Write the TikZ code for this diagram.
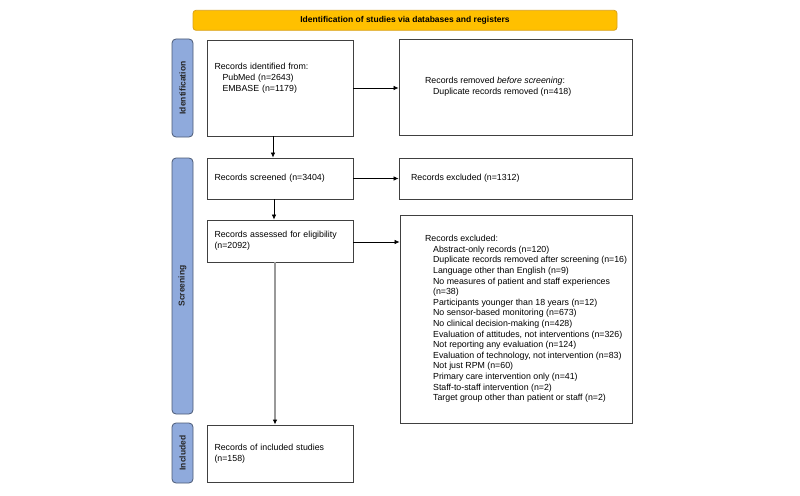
\documentclass[tikz,border=0pt]{standalone}
\usepackage{fontspec}
\setmainfont{Liberation Sans}
\usetikzlibrary{arrows.meta}
\definecolor{bannerfill}{HTML}{FFC000}
\definecolor{bannerline}{HTML}{D9A21B}
\definecolor{phasefill}{HTML}{8FAADC}
\definecolor{phaseline}{HTML}{4B5A75}
\definecolor{boxline}{HTML}{404040}
\newcommand{\ind}{\hspace*{8pt}}
\tikzset{
  txt/.style={font=\fontsize{8.8}{10.6}\selectfont, align=left},
  box/.style={draw=boxline, line width=0.8pt, rectangle, txt, inner ysep=2pt},
  lbox/.style={box, text width=131pt, inner xsep=7.5pt},
  phase/.style={draw=phaseline, fill=phasefill, line width=0.8pt, rounded corners=4pt,
    rotate=90, minimum height=21pt, inner sep=0pt, text=black!85,
    font=\fontsize{8.5}{10}\selectfont\bfseries},
  flow/.style={-{Latex[length=5pt,width=4.5pt]}, line width=0.7pt, draw=black},
}
\begin{document}
\begin{tikzpicture}[x=1pt, y=-1pt]
  \useasboundingbox (0,0) rectangle (800,495);

  % banner
  \node[draw=bannerline, fill=bannerfill, rounded corners=3pt, line width=0.8pt,
    minimum width=424pt, minimum height=20pt, inner sep=0pt,
    font=\fontsize{8.5}{10}\selectfont\bfseries] (banner) at (405,20.3)
    {Identification of studies via databases and registers};

  % phase labels
  \node[phase, minimum width=98pt] (phid) at (182.5,88) {Identification};
  \node[phase, minimum width=256pt] (phscr) at (182.5,286) {Screening};
  \node[phase, minimum width=60pt] (phinc) at (182.5,453) {Included};

  % left column
  \node[lbox, minimum height=96pt] (ident) at (280,88)
    {Records identified from:\\ \ind PubMed (n=2643)\\ \ind EMBASE (n=1179)\\ \mbox{}\\ \mbox{}};
  \node[lbox, minimum height=41pt] (screen) at (280,178.5)
    {Records screened (n=3404)};
  \node[lbox, minimum height=42pt] (assess) at (280,241)
    {Records assessed for eligibility\\ (n=2092)};
  \node[lbox, minimum height=57pt] (incl) at (280,453.5)
    {Records of included studies\\ (n=158)};

  % right column
  \node[box, minimum width=233pt, minimum height=96pt,
    label={[name=removedtxt, txt, anchor=west, xshift=23pt]west:{Records removed \textit{before screening}:\\ \ind Duplicate records removed (n=418)}}]
    (removed) at (515.5,87) {};
  \node[box, minimum width=233pt, minimum height=41pt,
    label={[name=excla, txt, anchor=west, xshift=9pt]west:{Records excluded (n=1312)}}]
    (exclone) at (515.5,178.5) {};
  \node[box, minimum width=232pt, minimum height=208pt,
    label={[name=exclb, txt, anchor=west, xshift=22pt]west:{Records excluded:\\
      \ind Abstract-only records (n=120)\\
      \ind Duplicate records removed after screening (n=16)\\
      \ind Language other than English (n=9)\\
      \ind No measures of patient and staff experiences\\
      \ind (n=38)\\
      \ind Participants younger than 18 years (n=12)\\
      \ind No sensor-based monitoring (n=673)\\
      \ind No clinical decision-making (n=428)\\
      \ind Evaluation of attitudes, not interventions (n=326)\\
      \ind Not reporting any evaluation (n=124)\\
      \ind Evaluation of technology, not intervention (n=83)\\
      \ind Not just RPM (n=60)\\
      \ind Primary care intervention only (n=41)\\
      \ind Staff-to-staff intervention (n=2)\\
      \ind Target group other than patient or staff (n=2)}}]
    (excltwo) at (516,319) {};

  % connectors
  \draw[flow] ([xshift=-7pt]ident.south) -- ([xshift=-7pt]screen.north);
  \draw[flow] ([xshift=-6pt]screen.south) -- ([xshift=-6pt]assess.north);
  \draw[flow, draw=black!40, line width=1.4pt, -{Latex[length=5pt,width=4.5pt,black]}]
    ([xshift=-5pt]assess.south) -- ([xshift=-5pt]incl.north);
  \draw[flow] (ident.east) -- (ident.east -| removed.west);
  \draw[flow] (screen.east) -- (screen.east -| exclone.west);
  \draw[flow] ([yshift=-1pt]assess.east) -- ([yshift=-1pt]assess.east -| excltwo.west);
\end{tikzpicture}
\end{document}
